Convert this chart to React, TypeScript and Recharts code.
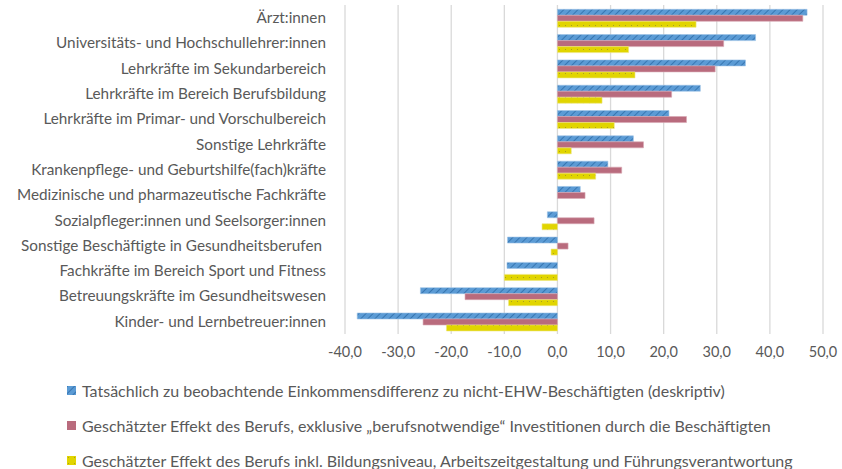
import React from 'react';
import { BarChart, Bar, XAxis, YAxis, CartesianGrid, Legend } from 'recharts';

const categories = [
  'Ärzt:innen',
  'Universitäts- und Hochschullehrer:innen',
  'Lehrkräfte im Sekundarbereich',
  'Lehrkräfte im Bereich Berufsbildung',
  'Lehrkräfte im Primar- und Vorschulbereich',
  'Sonstige Lehrkräfte',
  'Krankenpflege- und Geburtshilfe(fach)kräfte',
  'Medizinische und pharmazeutische Fachkräfte',
  'Sozialpfleger:innen und Seelsorger:innen',
  'Sonstige Beschäftigte in Gesundheitsberufen\u00a0',
  'Fachkräfte im Bereich Sport und Fitness',
  'Betreuungskräfte im Gesundheitswesen',
  'Kinder- und Lernbetreuer:innen',
];

const descriptive = [47.0, 37.3, 35.4, 26.9, 21.0, 14.3, 9.5, 4.3, -1.9, -9.4, -9.5, -25.8, -37.7];
const occupationEffect = [46.2, 31.3, 29.7, 21.5, 24.3, 16.2, 12.1, 5.2, 6.9, 2.0, 0, -17.4, -25.3];
const fullEffect = [26.1, 13.4, 14.6, 8.4, 10.7, 2.6, 7.2, 0, -2.9, -1.2, -10.0, -9.2, -20.9];

const xTicks = [-40, -30, -20, -10, 0, 10, 20, 30, 40, 50];

const seriesNames = [
  'Tatsächlich zu beobachtende Einkommensdifferenz zu nicht-EHW-Beschäftigten (deskriptiv)',
  'Geschätzter Effekt des Berufs, exklusive „berufsnotwendige“ Investitionen durch die Beschäftigten',
  'Geschätzter Effekt des Berufs inkl. Bildungsniveau, Arbeitszeitgestaltung und Führungsverantwortung',
];

const data = categories.map((c, i) => ({
  name: c,
  a: descriptive[i],
  b: occupationEffect[i],
  c: fullEffect[i],
}));

const FONT = 'Lato, "Open Sans", sans-serif';
const TEXT = '#595959';

const fmt = (v: number) => v.toFixed(1).replace('.', ',');

const legendFills = ['url(#hatchBlue)', '#B96B7D', 'url(#dotYellow)'];

const LegendContent = () => (
  <div style={{ width: 842, height: 105, position: 'relative', fontFamily: FONT, fontSize: 16, color: TEXT }}>
    {seriesNames.map((n, i) => (
      <div key={i} style={{ position: 'absolute', left: 67, top: 26 + i * 35 - 10, height: 20, display: 'flex', alignItems: 'center', whiteSpace: 'nowrap' }}>
        <svg width={9} height={9} style={{ marginRight: 6 }}>
          <rect x={0} y={0} width={9} height={9} fill={legendFills[i]} />
        </svg>
        <span>{n}</span>
      </div>
    ))}
  </div>
);

export default function App() {
  return (
    <div style={{ position: 'absolute', left: 0, top: 0, width: 842, height: 469, background: '#fff' }}>
      <BarChart
        width={842}
        height={469}
        data={data}
        layout="vertical"
        margin={{ top: 5, right: 19, bottom: 0, left: 0 }}
        barCategoryGap="17%"
        barGap={0}
      >
        <defs>
          <pattern id="hatchBlue" patternUnits="userSpaceOnUse" width={5} height={5} patternTransform="rotate(45)">
            <rect x={0} y={0} width={5} height={5} fill="#5B9BD5" />
            <line x1={0} y1={0} x2={0} y2={5} stroke="#2E6DA8" strokeWidth={1.6} />
          </pattern>
          <pattern id="dotYellow" patternUnits="userSpaceOnUse" width={6} height={6}>
            <rect x={0} y={0} width={6} height={6} fill="#E1D500" />
            <rect x={1} y={1} width={1} height={1} fill="#A89E20" />
          </pattern>
        </defs>
        <CartesianGrid horizontal={false} vertical stroke="#D9D9D9" strokeWidth={1.3} />
        <XAxis
          type="number"
          domain={[-40, 50]}
          ticks={xTicks}
          tickFormatter={fmt}
          axisLine={false}
          tickLine={false}
          tickSize={0}
          tickMargin={13}
          height={30}
          interval={0}
          tick={{ fill: TEXT, fontSize: 14.5, fontFamily: FONT }}
        />
        <YAxis
          type="category"
          dataKey="name"
          width={345}
          axisLine={false}
          tickLine={false}
          tickSize={0}
          tickMargin={19}
          interval={0}
          tick={{ fill: TEXT, fontSize: 15.3, fontFamily: FONT }}
        />
        <Legend verticalAlign="bottom" content={<LegendContent />} />
        <Bar dataKey="a" name={seriesNames[0]} fill="url(#hatchBlue)" stroke="#9DC3E6" strokeWidth={0.6} isAnimationActive={false} />
        <Bar dataKey="b" name={seriesNames[1]} fill="#B96B7D" stroke="#D9A8B4" strokeWidth={0.6} isAnimationActive={false} />
        <Bar dataKey="c" name={seriesNames[2]} fill="url(#dotYellow)" stroke="#EEE680" strokeWidth={0.6} isAnimationActive={false} />
      </BarChart>
    </div>
  );
}
